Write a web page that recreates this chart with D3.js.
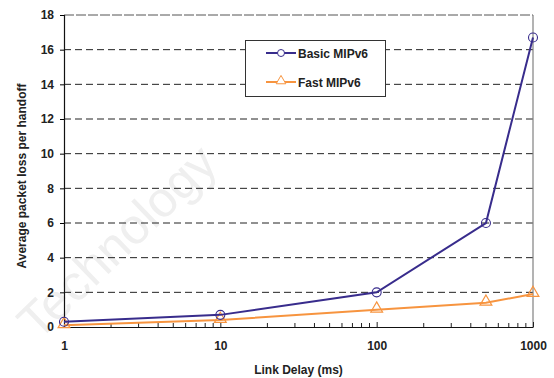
<!DOCTYPE html>
<html>
<head>
<meta charset="utf-8">
<script src="https://cdn.jsdelivr.net/npm/d3@7"></script>
<style>
  html, body { margin: 0; padding: 0; background: #fff; }
  svg text { font-family: "Liberation Sans", Arial, sans-serif; font-weight: bold; }
</style>
</head>
<body>
<svg id="chart" width="554" height="378"></svg>
<script>
// Link delay (ms) on a log axis
const delays = [1, 10, 100, 500, 1000];
const basicLoss = [0.3, 0.7, 2.0, 6.0, 16.7];
const fastLoss = [0.1, 0.4, 1.0, 1.4, 1.9];
const seriesNames = ["Basic MIPv6", "Fast MIPv6"];
const xTickLabels = [1, 10, 100, 1000];
const yTickLabels = [0, 2, 4, 6, 8, 10, 12, 14, 16, 18];

const W = 554, H = 378;
const m = { left: 64, right: 533, top: 15, bottom: 327 };
const svg = d3.select("#chart");

const x = d3.scaleLog().domain([1, 1000]).range([m.left, m.right]);
const y = d3.scaleLinear().domain([0, 18]).range([m.bottom, m.top]);

const navy = "#382c8c";
const orange = "#f7943f";

// faint background lettering
svg.append("text")
  .attr("transform", "translate(38,342) rotate(-44)")
  .attr("font-size", 50)
  .style("font-weight", "normal")
  .attr("fill", "#efefef")
  .text("Technology");

// horizontal dashed grid
svg.append("g").selectAll("line")
  .data(yTickLabels.filter(v => v > 0))
  .join("line")
  .attr("x1", m.left).attr("x2", m.right)
  .attr("y1", d => y(d)).attr("y2", d => y(d))
  .attr("stroke", d => d === 18 ? "#555" : "#222")
  .attr("stroke-width", 1)
  .attr("stroke-dasharray", d => d === 18 ? "10,2" : "7,4");

// right frame edge
svg.append("line")
  .attr("x1", m.right).attr("x2", m.right)
  .attr("y1", m.top).attr("y2", m.bottom)
  .attr("stroke", "#808080").attr("stroke-width", 1.2);

// y axis
const yAxis = d3.axisLeft(y).tickValues(yTickLabels).tickSize(4).tickPadding(6);
const gy = svg.append("g").attr("transform", `translate(${m.left},0)`).call(yAxis);
gy.select(".domain").attr("stroke", "#111").attr("stroke-width", 1.2);
gy.selectAll("text").attr("font-size", 12).attr("fill", "#222")
  .style("font-family", "'Liberation Sans', Arial, sans-serif").style("font-weight", "bold");

// x axis: minor ticks pointing into the plot
const minor = [];
for (let d = 1; d < 1000; d *= 10) for (let k = 2; k <= 9; k++) minor.push(d * k);
svg.append("g").selectAll("line").data(minor).join("line")
  .attr("x1", d => x(d)).attr("x2", d => x(d))
  .attr("y1", m.bottom).attr("y2", m.bottom - 4)
  .attr("stroke", "#222");
const xAxis = d3.axisBottom(x).tickValues(xTickLabels).tickFormat(d3.format("d")).tickSizeInner(-5).tickSizeOuter(0).tickPadding(14);
const gx = svg.append("g").attr("transform", `translate(0,${m.bottom})`).call(xAxis);
gx.select(".domain").attr("stroke", "#111").attr("stroke-width", 1.2);
gx.selectAll(".tick line").attr("stroke", "#222");
gx.selectAll("text").attr("font-size", 12).attr("fill", "#222")
  .style("font-family", "'Liberation Sans', Arial, sans-serif").style("font-weight", "bold");

// axis titles
svg.append("text")
  .attr("x", (m.left + m.right) / 2).attr("y", 374)
  .attr("text-anchor", "middle").attr("font-size", 12).attr("fill", "#222")
  .text("Link Delay (ms)");
svg.append("text")
  .attr("transform", `translate(26,${(m.top + m.bottom) / 2 + 5}) rotate(-90)`)
  .attr("text-anchor", "middle").attr("font-size", 12).attr("fill", "#222")
  .text("Average packet loss per handoff");

const line = d3.line().x(d => x(d[0])).y(d => y(d[1]));
const basicPts = delays.map((d, i) => [d, basicLoss[i]]);
const fastPts = delays.map((d, i) => [d, fastLoss[i]]);

const tri = d3.symbol().type(d3.symbolTriangle).size(60);

// Fast MIPv6
svg.append("path").datum(fastPts).attr("d", line)
  .attr("fill", "none").attr("stroke", orange).attr("stroke-width", 2);
svg.append("g").selectAll("path").data(fastPts).join("path")
  .attr("d", tri)
  .attr("transform", d => `translate(${x(d[0])},${y(d[1]) - 1})`)
  .attr("fill", "#fff").attr("fill-opacity", 0.01)
  .attr("stroke", orange).attr("stroke-width", 1.2);

// Basic MIPv6
svg.append("path").datum(basicPts).attr("d", line)
  .attr("fill", "none").attr("stroke", navy).attr("stroke-width", 2);
svg.append("g").selectAll("circle").data(basicPts).join("circle")
  .attr("cx", d => x(d[0])).attr("cy", d => y(d[1])).attr("r", 4.5)
  .attr("fill", "none").attr("stroke", navy).attr("stroke-width", 1.1);

// legend
const lg = svg.append("g");
lg.append("rect").attr("x", 245.5).attr("y", 40.5).attr("width", 140).attr("height", 56)
  .attr("fill", "#fff").attr("stroke", "#333").attr("stroke-width", 1);
const rows = [
  { name: seriesNames[0], color: navy, y: 53, mark: "circle" },
  { name: seriesNames[1], color: orange, y: 82, mark: "tri" }
];
rows.forEach(r => {
  lg.append("line").attr("x1", 266).attr("x2", 296).attr("y1", r.y).attr("y2", r.y)
    .attr("stroke", r.color).attr("stroke-width", 2);
  if (r.mark === "circle") {
    lg.append("circle").attr("cx", 281).attr("cy", r.y).attr("r", 3.5)
      .attr("fill", "#fff").attr("stroke", r.color).attr("stroke-width", 1);
  } else {
    lg.append("path").attr("d", d3.symbol().type(d3.symbolTriangle).size(40))
      .attr("transform", `translate(281,${r.y - 1})`)
      .attr("fill", "#fff").attr("stroke", r.color).attr("stroke-width", 1);
  }
  lg.append("text").attr("x", 298).attr("y", r.y + 4.5).attr("font-size", 12).attr("fill", "#222")
    .text(r.name);
});
</script>
</body>
</html>
